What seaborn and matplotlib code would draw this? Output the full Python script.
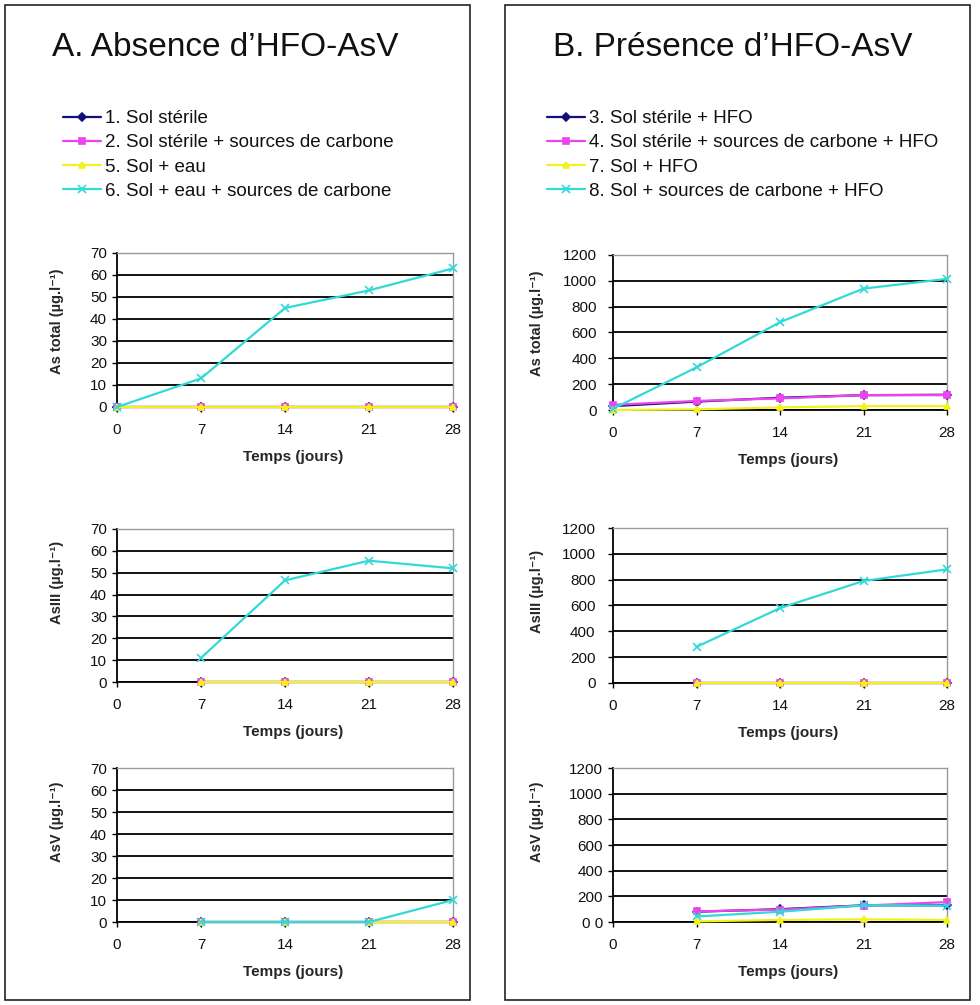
import numpy as np
import matplotlib
matplotlib.use("Agg")
import matplotlib.pyplot as plt
import seaborn as sns
from matplotlib.patches import Rectangle

# ---------------- data ----------------
nan = np.nan
days = [0, 7, 14, 21, 28]
day_ticks = [0, 7, 14, 21, 28]

# Panel A : absence d'HFO-AsV
a_labels = ["1. Sol stérile", "2. Sol stérile + sources de carbone",
            "5. Sol + eau", "6. Sol + eau + sources de carbone"]
a_total_1 = [0, 0, 0, 0, 0]
a_total_2 = [0, 0, 0, 0, 0]
a_total_5 = [0, 0, 0, 0, 0]
a_total_6 = [0, 13, 45, 53, 63]
a_as3_1 = [nan, 0, 0, 0, 0]
a_as3_2 = [nan, 0, 0, 0, 0]
a_as3_5 = [nan, 0, 0, 0, 0]
a_as3_6 = [nan, 11, 46.5, 55.5, 52]
a_as5_1 = [nan, 0, 0, 0, 0]
a_as5_2 = [nan, 0, 0, 0, 0]
a_as5_5 = [nan, 0, 0, 0, 0]
a_as5_6 = [nan, 0, 0, 0, 10]

# Panel B : présence d'HFO-AsV
b_labels = ["3. Sol stérile + HFO", "4. Sol stérile + sources de carbone + HFO",
            "7. Sol + HFO", "8. Sol + sources de carbone + HFO"]
b_total_3 = [30, 65, 95, 115, 118]
b_total_4 = [40, 70, 90, 115, 115]
b_total_7 = [0, 5, 20, 30, 30]
b_total_8 = [10, 330, 680, 940, 1015]
b_as3_3 = [nan, 0, 0, 0, 0]
b_as3_4 = [nan, 0, 0, 0, 0]
b_as3_7 = [nan, 0, 0, 0, 0]
b_as3_8 = [nan, 280, 580, 790, 880]
b_as5_3 = [nan, 80, 100, 130, 130]
b_as5_4 = [nan, 83, 96, 128, 155]
b_as5_7 = [nan, 5, 16, 21, 16]
b_as5_8 = [nan, 43, 80, 130, 128]

a_yticks = [0, 10, 20, 30, 40, 50, 60, 70]
a_yticklabels = ["0", "10", "20", "30", "40", "50", "60", "70"]
b_yticks = [0, 200, 400, 600, 800, 1000, 1200]
b_yticklabels = ["0", "200", "400", "600", "800", "1000", "1200"]
b_yticklabels_asv = ["0 0", "200", "400", "600", "800", "1000", "1200"]

ylabels = ["As total (µg.l⁻¹)", "AsIII (µg.l⁻¹)", "AsV (µg.l⁻¹)"]
xlabel = "Temps (jours)"
title_a = "A. Absence d’HFO-AsV"
title_b = "B. Présence d’HFO-AsV"

# ---------------- style ----------------
sns.set_style("white")
plt.rcParams["font.family"] = ["Liberation Sans", "DejaVu Sans"]

colors = ["#10107a", "#ee44ee", "#f2f21a", "#33d8d8"]
markers = ["D", "s", "^", "x"]
msizes = [4, 5, 5, 6]

W, H = 980, 1005
fig = plt.figure(figsize=(W / 100, H / 100), dpi=100)
fig.patch.set_facecolor("white")

# panel frames
for (l, t, r, b) in [(5, 5, 470, 1000), (505, 5, 970, 1000)]:
    fig.patches.append(Rectangle((l / W, 1 - b / H), (r - l) / W, (b - t) / H,
                                 transform=fig.transFigure, fill=False,
                                 edgecolor="#222222", linewidth=1.2))


def px_axes(l, t, r, b):
    return fig.add_axes([l / W, 1 - b / H, (r - l) / W, (b - t) / H])


a_rects = [(117, 253, 453, 407), (117, 529, 453, 682), (117, 768, 453, 922)]
b_rects = [(613, 255, 947, 410), (613, 528, 947, 683), (613, 768, 947, 922)]
a_series = [[a_total_1, a_total_2, a_total_5, a_total_6],
            [a_as3_1, a_as3_2, a_as3_5, a_as3_6],
            [a_as5_1, a_as5_2, a_as5_5, a_as5_6]]
b_series = [[b_total_3, b_total_4, b_total_7, b_total_8],
            [b_as3_3, b_as3_4, b_as3_7, b_as3_8],
            [b_as5_3, b_as5_4, b_as5_7, b_as5_8]]
a_ylab_y = [0.56, 0.65, 0.65]
b_ylab_y = [0.56, 0.59, 0.65]
a_ypads = [3.6, 3.6, 3.6]
b_ypads = [8.0, 9.0, 3.6]


def draw(ax, series, labels, ymax, yticks, yticklabels, ylab, ylab_x, ylab_y, ypad):
    for vals, lab, c, m, ms in zip(series, labels, colors, markers, msizes):
        sns.lineplot(x=days, y=vals, ax=ax, color=c, marker=m, markersize=ms,
                     markeredgecolor=c, markerfacecolor=c, markeredgewidth=1.2,
                     linewidth=1.6, label=lab, clip_on=False, errorbar=None,
                     zorder=3)
    if ax.get_legend() is not None:
        ax.get_legend().remove()
    ax.set_xlim(0, 28)
    ax.set_ylim(0, ymax)
    ax.set_xticks(day_ticks)
    ax.set_xticklabels([str(d) for d in day_ticks])
    ax.set_yticks(yticks)
    ax.set_yticklabels(yticklabels)
    ax.yaxis.grid(True, color="black", linewidth=1.3)
    ax.xaxis.grid(False)
    ax.get_ygridlines()[-1].set_visible(False)
    ax.set_axisbelow(True)
    for s in ["left", "bottom"]:
        ax.spines[s].set_color("black")
        ax.spines[s].set_linewidth(1.3)
    for s in ["top", "right"]:
        ax.spines[s].set_visible(True)
        ax.spines[s].set_color("#9a9a9a")
        ax.spines[s].set_linewidth(1.0)
    ax.tick_params(axis="both", direction="out", length=3.6, width=1.0,
                   color="black", labelsize=11, labelcolor="#111111",
                   left=True, bottom=True)
    ax.tick_params(axis="y", pad=ypad)
    ax.tick_params(axis="x", pad=7.6)
    ax.set_ylabel(ylab, fontsize=10.5, fontweight="bold")
    ax.yaxis.label.set_va("center")
    ax.yaxis.set_label_coords(ylab_x, ylab_y)
    ax.set_xlabel(xlabel, fontsize=11, fontweight="bold")
    ax.xaxis.label.set_va("center")
    h = ax.get_position().height * H
    ax.xaxis.set_label_coords(0.525, -50 / h)


axes_a = []
for i, rect in enumerate(a_rects):
    ax = px_axes(*rect)
    draw(ax, a_series[i], a_labels, 70, a_yticks, a_yticklabels, ylabels[i],
         (57 - 117) / (453 - 117), a_ylab_y[i], a_ypads[i])
    axes_a.append(ax)

axes_b = []
for i, rect in enumerate(b_rects):
    ax = px_axes(*rect)
    ytl = b_yticklabels_asv if i == 2 else b_yticklabels
    draw(ax, b_series[i], b_labels, 1200, b_yticks, ytl, ylabels[i],
         (537 - 613) / (947 - 613), b_ylab_y[i], b_ypads[i])
    axes_b.append(ax)

# titles
fig.text(52 / W, 1 - 56 / H, title_a, fontsize=24, va="baseline", ha="left", color="#111111")
fig.text(553 / W, 1 - 56 / H, title_b, fontsize=24, va="baseline", ha="left", color="#111111")

# legends
for axs, x0 in [(axes_a, 63), (axes_b, 547)]:
    hnd, lab = axs[0].get_legend_handles_labels()
    fig.legend(hnd, lab, loc="upper left", bbox_to_anchor=(x0 / W, 1 - 110 / H),
               frameon=False, fontsize=13.5, handlelength=2.0, handletextpad=0.25,
               labelspacing=0.38, borderpad=0, borderaxespad=0,
               labelcolor="#111111")

fig.savefig("out.png", dpi=100, facecolor="white")
